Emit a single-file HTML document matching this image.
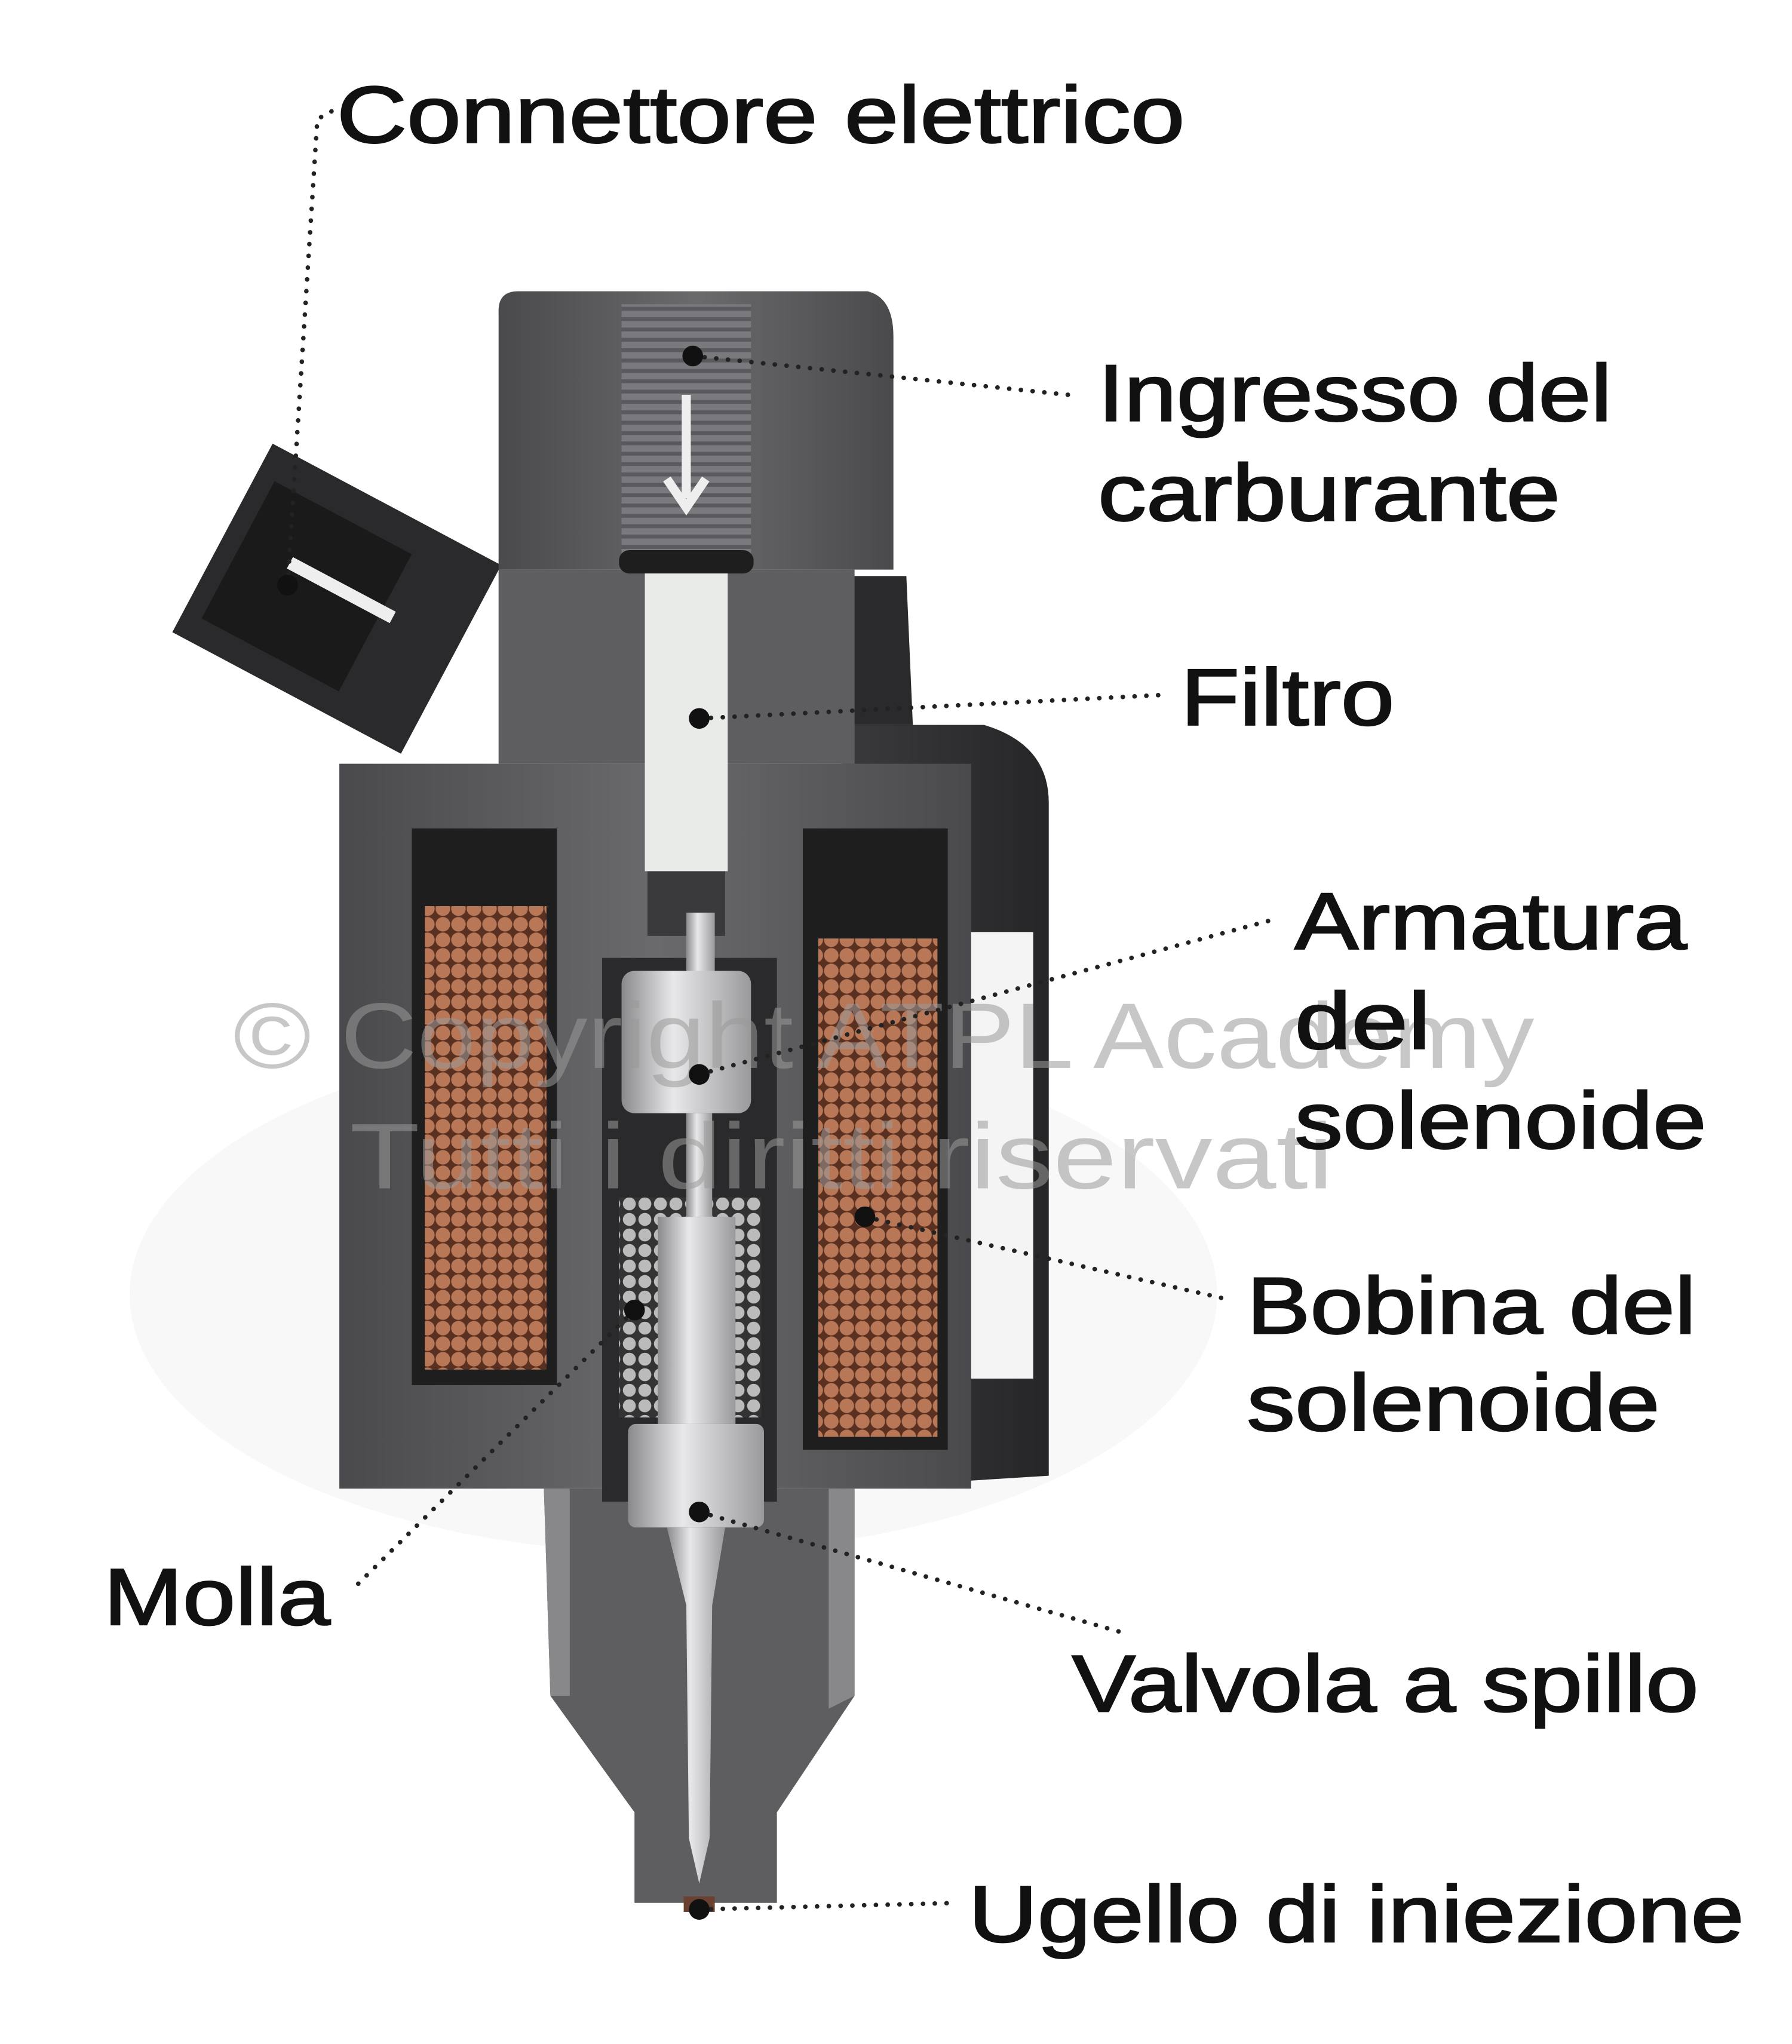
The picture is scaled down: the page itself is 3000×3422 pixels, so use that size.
<!DOCTYPE html>
<html><head><meta charset="utf-8"><style>
html,body{margin:0;padding:0;background:#fff;}
svg{display:block;}
text{font-family:"Liberation Sans",sans-serif;}
</style></head><body>
<svg width="3000" height="3422" viewBox="0 0 1384 1579" xmlns="http://www.w3.org/2000/svg">
<defs>
<linearGradient id="body" x1="0" x2="1"><stop offset="0" stop-color="#4a4a4d"/><stop offset="0.5" stop-color="#6a6a6d"/><stop offset="1" stop-color="#4a4a4d"/></linearGradient>
<linearGradient id="cyl" x1="0" x2="1"><stop offset="0" stop-color="#3a3a3c"/><stop offset="1" stop-color="#262628"/></linearGradient>
<linearGradient id="silver" x1="0" x2="1"><stop offset="0" stop-color="#8a8a8c"/><stop offset="0.4" stop-color="#e8e8ea"/><stop offset="1" stop-color="#9a9a9c"/></linearGradient>
<pattern id="cu" width="12" height="12" patternUnits="userSpaceOnUse"><rect width="12" height="12" fill="#5a3020"/><circle cx="6" cy="6" r="5.6" fill="#b87858"/></pattern>
<pattern id="thr" width="10" height="8" patternUnits="userSpaceOnUse"><rect width="10" height="8" fill="#7a7a7e"/><rect y="5" width="10" height="3" fill="#5a5a5e"/></pattern>
<pattern id="spr" width="12" height="12" patternUnits="userSpaceOnUse"><rect width="12" height="12" fill="#333"/><circle cx="6" cy="6" r="5" fill="#bbb"/></pattern>
</defs>
<ellipse cx="520" cy="1000" rx="420" ry="200" fill="#f8f8f8"/>
<path d="M650 560 L760 560 Q810 575 810 620 L810 1140 L650 1150 Z" fill="url(#cyl)"/>
<path d="M640 445 L700 445 L705 560 L640 560 Z" fill="#2a2a2c"/>
<rect x="750" y="720" width="48" height="345" fill="#f4f4f4"/>
<g transform="rotate(28 250 460)"><rect x="160" y="375" width="200" height="165" fill="#2a2a2c"/><rect x="175" y="400" width="120" height="120" fill="#1a1a1a"/><rect x="215" y="445" width="90" height="10" fill="#eee"/></g>
<path d="M385 240 Q385 225 400 225 L670 225 Q690 230 690 260 L690 440 L385 440 Z" fill="url(#body)"/>
<path d="M385 440 L660 440 L660 590 L385 590 Z" fill="#5e5e61"/>
<path d="M262 590 L750 590 L750 1150 L262 1150 Z" fill="url(#body)"/>
<path d="M420 1150 L660 1150 L660 1310 L600 1400 L600 1470 L490 1470 L490 1400 L425 1310 Z" fill="#5e5e61"/>
<path d="M420 1150 L440 1150 L440 1310 L425 1310 Z" fill="#88888a"/>
<path d="M640 1150 L660 1150 L660 1310 L640 1320 Z" fill="#88888a"/>
<rect x="480" y="235" width="100" height="205" fill="url(#thr)"/>
<path d="M530 305 L530 385 M515 370 L530 392 L545 370" stroke="#eee" stroke-width="7" fill="none"/>
<rect x="478" y="425" width="104" height="18" rx="8" fill="#1e1e1e"/>
<rect x="498" y="443" width="64" height="230" fill="#e8ebe8"/>
<rect x="500" y="673" width="60" height="50" fill="#3a3a3c"/>
<rect x="318" y="640" width="112" height="430" fill="#1e1e1e"/>
<rect x="328" y="700" width="94" height="358" fill="url(#cu)"/>
<rect x="620" y="640" width="112" height="480" fill="#1e1e1e"/>
<rect x="632" y="725" width="92" height="385" fill="url(#cu)"/>
<rect x="465" y="740" width="135" height="420" fill="#2a2a2c"/>
<rect x="478" y="925" width="110" height="170" fill="url(#spr)"/>
<rect x="530" y="705" width="22" height="50" fill="url(#silver)"/>
<rect x="480" y="750" width="100" height="110" rx="10" fill="url(#silver)"/>
<rect x="530" y="860" width="20" height="80" fill="url(#silver)"/>
<rect x="508" y="940" width="60" height="160" fill="url(#silver)"/>
<rect x="485" y="1100" width="105" height="80" rx="6" fill="url(#silver)"/>
<path d="M515 1180 L560 1180 L550 1240 L548 1420 L540 1455 L532 1420 L530 1240 Z" fill="url(#silver)"/>
<rect x="528" y="1465" width="24" height="12" fill="#6a4030"/>
<g fill="#9a9a9a" opacity="0.55" font-size="72"><text x="180" y="825" textLength="1005" lengthAdjust="spacingAndGlyphs">© Copyright ATPL Academy</text><text x="270" y="918" textLength="760" lengthAdjust="spacingAndGlyphs">Tutti i diritti riservati</text></g>
<g stroke="#222" stroke-width="3.5" stroke-dasharray="0.1 9" stroke-linecap="round" fill="none">
<path d="M222 452 L245 92 L256 86"/>
<path d="M535 275 L825 305"/>
<path d="M540 555 L895 537"/>
<path d="M540 830 L985 710"/>
<path d="M668 940 L945 1003"/>
<path d="M490 1012 L275 1225"/>
<path d="M540 1168 L870 1262"/>
<path d="M540 1475 L740 1470"/>
</g>
<g fill="#111"><circle cx="222" cy="452" r="8"/><circle cx="535" cy="275" r="8"/><circle cx="540" cy="555" r="8"/><circle cx="540" cy="830" r="8"/><circle cx="668" cy="940" r="8"/><circle cx="490" cy="1012" r="8"/><circle cx="540" cy="1168" r="8"/><circle cx="540" cy="1475" r="8"/></g>
<g fill="#111" stroke="#111" stroke-width="1.2" font-size="62">
<text x="260" y="110" textLength="655" lengthAdjust="spacingAndGlyphs">Connettore elettrico</text>
<text x="848" y="325" textLength="397" lengthAdjust="spacingAndGlyphs">Ingresso del</text>
<text x="848" y="402" textLength="357" lengthAdjust="spacingAndGlyphs">carburante</text>
<text x="912" y="560" textLength="165" lengthAdjust="spacingAndGlyphs">Filtro</text>
<text x="1000" y="733" textLength="303" lengthAdjust="spacingAndGlyphs">Armatura</text>
<text x="1000" y="810" textLength="105" lengthAdjust="spacingAndGlyphs">del</text>
<text x="1000" y="887" textLength="318" lengthAdjust="spacingAndGlyphs">solenoide</text>
<text x="963" y="1030" textLength="347" lengthAdjust="spacingAndGlyphs">Bobina del</text>
<text x="963" y="1105" textLength="319" lengthAdjust="spacingAndGlyphs">solenoide</text>
<text x="80" y="1255" textLength="175" lengthAdjust="spacingAndGlyphs">Molla</text>
<text x="828" y="1322" textLength="484" lengthAdjust="spacingAndGlyphs">Valvola a spillo</text>
<text x="748" y="1500" textLength="599" lengthAdjust="spacingAndGlyphs">Ugello di iniezione</text>
</g>
</svg>
</body></html>
